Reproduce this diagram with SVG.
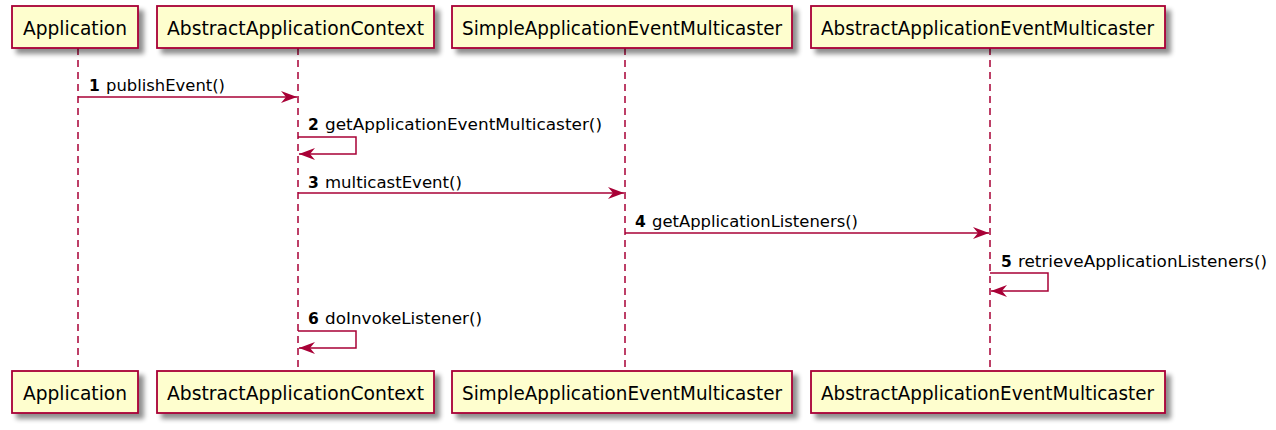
<svg xmlns="http://www.w3.org/2000/svg" width="1276" height="430" viewBox="0 0 1276 430">
<defs>
<filter id="sh" x="-10%" y="-20%" width="130%" height="160%">
<feGaussianBlur in="SourceAlpha" stdDeviation="2.5"/>
<feOffset dx="5" dy="5" result="b"/>
<feComponentTransfer><feFuncA type="linear" slope="0.45"/></feComponentTransfer>
<feMerge><feMergeNode/><feMergeNode in="SourceGraphic"/></feMerge>
</filter>
<marker id="ah" viewBox="0 0 16 12" refX="16" refY="6" markerWidth="16" markerHeight="12" markerUnits="userSpaceOnUse" orient="auto">
<polygon points="0,0 16,6 0,12 5,6" fill="#A80036"/>
</marker>
</defs>
<style>
.box{fill:#FEFECE;stroke:#A80036;stroke-width:1.8;}
.life{stroke:#A80036;stroke-width:1.5;stroke-dasharray:7,5;fill:none;}
.msg{stroke:#A80036;stroke-width:1.5;fill:none;}
.pt{font-family:"DejaVu Sans",sans-serif;font-size:19px;fill:#000;}
.mt{font-family:"DejaVu Sans",sans-serif;font-size:15.5px;fill:#000;}
.num{font-family:"DejaVu Sans",sans-serif;font-size:15.5px;font-weight:bold;fill:#000;}
</style>
<rect width="1276" height="430" fill="#fff"/>
<g id="lifelines">
<line class="life" x1="78" y1="48" x2="78" y2="371"/>
<line class="life" x1="298" y1="48" x2="298" y2="371"/>
<line class="life" x1="625" y1="48" x2="625" y2="371"/>
<line class="life" x1="990" y1="48" x2="990" y2="371"/>
</g>
<g id="p-application">
<rect class="box" x="12" y="6" width="126" height="42" filter="url(#sh)"/>
<text class="pt" x="23" y="35" textLength="104" lengthAdjust="spacingAndGlyphs">Application</text>
<rect class="box" x="12" y="371" width="126" height="42" filter="url(#sh)"/>
<text class="pt" x="23" y="400" textLength="104" lengthAdjust="spacingAndGlyphs">Application</text>
</g>
<g id="p-abstractapplicationcontext">
<rect class="box" x="157" y="6" width="277" height="42" filter="url(#sh)"/>
<text class="pt" x="167" y="35" textLength="257" lengthAdjust="spacingAndGlyphs">AbstractApplicationContext</text>
<rect class="box" x="157" y="371" width="277" height="42" filter="url(#sh)"/>
<text class="pt" x="167" y="400" textLength="257" lengthAdjust="spacingAndGlyphs">AbstractApplicationContext</text>
</g>
<g id="p-simpleapplicationeventmulticaster">
<rect class="box" x="452" y="6" width="340" height="42" filter="url(#sh)"/>
<text class="pt" x="462" y="35" textLength="320" lengthAdjust="spacingAndGlyphs">SimpleApplicationEventMulticaster</text>
<rect class="box" x="452" y="371" width="340" height="42" filter="url(#sh)"/>
<text class="pt" x="462" y="400" textLength="320" lengthAdjust="spacingAndGlyphs">SimpleApplicationEventMulticaster</text>
</g>
<g id="p-abstractapplicationeventmulticaster">
<rect class="box" x="811" y="6" width="354" height="42" filter="url(#sh)"/>
<text class="pt" x="821" y="35" textLength="333" lengthAdjust="spacingAndGlyphs">AbstractApplicationEventMulticaster</text>
<rect class="box" x="811" y="371" width="354" height="42" filter="url(#sh)"/>
<text class="pt" x="821" y="400" textLength="333" lengthAdjust="spacingAndGlyphs">AbstractApplicationEventMulticaster</text>
</g>
<g id="connectors">
<line class="msg" x1="78" y1="97" x2="297" y2="97" marker-end="url(#ah)"/>
<polyline class="msg" points="298,137 356,137 356,154 299,154" marker-end="url(#ah)"/>
<line class="msg" x1="298" y1="193" x2="624" y2="193" marker-end="url(#ah)"/>
<line class="msg" x1="625" y1="233" x2="989" y2="233" marker-end="url(#ah)"/>
<polyline class="msg" points="990,273 1048,273 1048,291 991,291" marker-end="url(#ah)"/>
<polyline class="msg" points="298,331 356,331 356,348 299,348" marker-end="url(#ah)"/>
</g>
<g id="labels">
<text class="num" x="89" y="91">1</text>
<text class="mt" x="106" y="91" textLength="119" lengthAdjust="spacingAndGlyphs">publishEvent()</text>
<text class="num" x="308" y="130">2</text>
<text class="mt" x="325" y="130" textLength="277" lengthAdjust="spacingAndGlyphs">getApplicationEventMulticaster()</text>
<text class="num" x="308" y="188">3</text>
<text class="mt" x="325" y="188" textLength="137" lengthAdjust="spacingAndGlyphs">multicastEvent()</text>
<text class="num" x="635" y="227">4</text>
<text class="mt" x="652" y="227" textLength="206" lengthAdjust="spacingAndGlyphs">getApplicationListeners()</text>
<text class="num" x="1001" y="267">5</text>
<text class="mt" x="1018" y="267" textLength="249" lengthAdjust="spacingAndGlyphs">retrieveApplicationListeners()</text>
<text class="num" x="308" y="324">6</text>
<text class="mt" x="325" y="324" textLength="157" lengthAdjust="spacingAndGlyphs">doInvokeListener()</text>
</g>
</svg>
